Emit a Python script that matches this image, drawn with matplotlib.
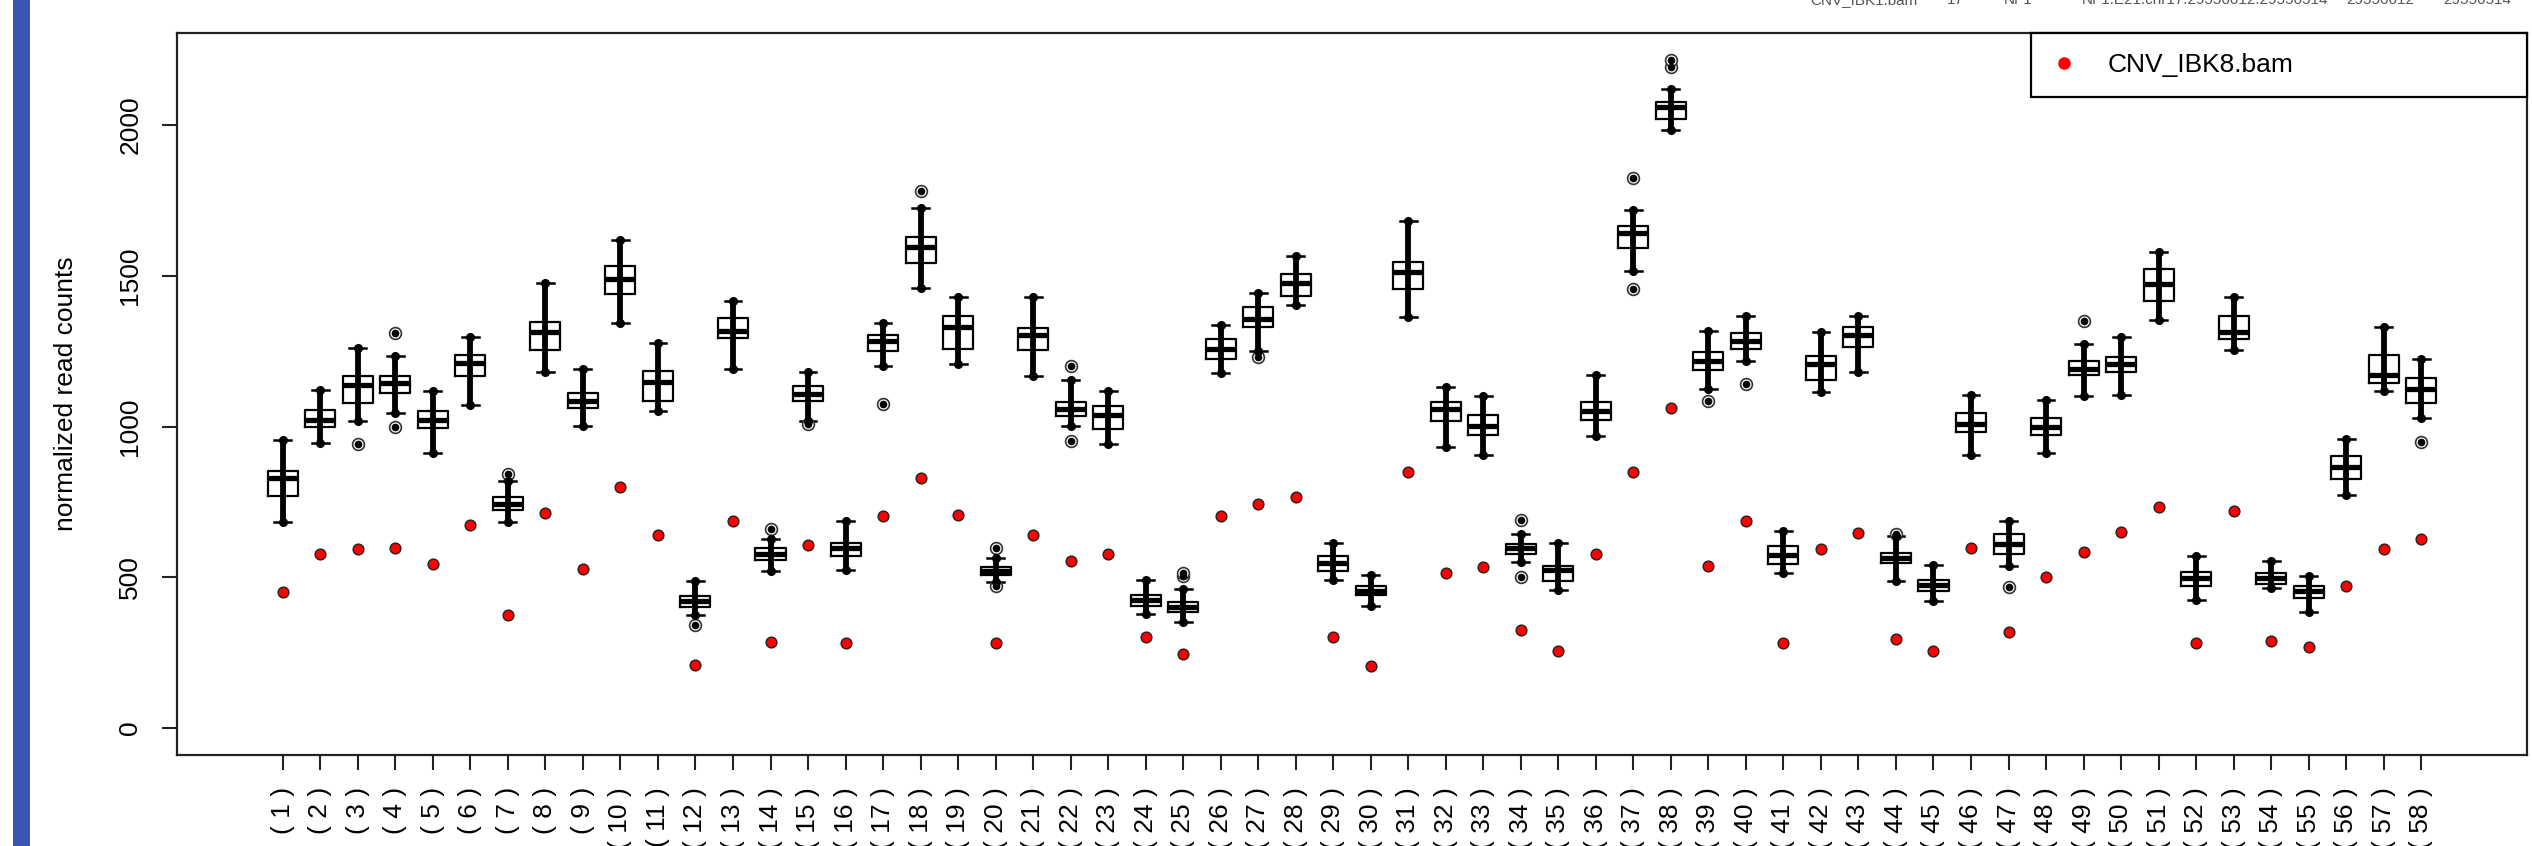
"""
Normalized read counts per amplicon: reference boxplots plus one sample (red).
"""
import matplotlib
matplotlib.use("Agg")
import matplotlib.pyplot as plt
from matplotlib.lines import Line2D
from matplotlib.patches import Rectangle

plt.rcParams["font.family"] = ["Liberation Sans", "DejaVu Sans"]

# box statistics (amplicons 1..58)
whis_lo = [684, 944, 1019, 1044, 914, 1073, 684, 1180, 1003, 1344,
           1050, 375, 1191, 520, 1019, 523, 1200, 1458, 1206, 484,
           1169, 1003, 941, 378, 352, 1177, 1250, 1403, 492, 406,
           1364, 933, 906, 550, 458, 969, 1516, 1984, 1125, 1219,
           516, 1113, 1180, 488, 422, 906, 539, 914, 1102, 1106,
           1355, 425, 1253, 464, 386, 773, 1117, 1028]
q1 = [769, 998, 1078, 1112, 995, 1169, 723, 1253, 1062, 1441,
      1084, 403, 1294, 559, 1084, 572, 1250, 1542, 1256, 508,
      1253, 1034, 992, 406, 386, 1225, 1331, 1434, 520, 441,
      1456, 1019, 972, 578, 488, 1023, 1591, 2020, 1188, 1258,
      544, 1153, 1264, 547, 456, 981, 578, 973, 1172, 1180,
      1417, 472, 1289, 477, 433, 825, 1145, 1078]
median = [828, 1022, 1137, 1144, 1022, 1212, 744, 1312, 1086, 1489,
          1148, 422, 1316, 578, 1109, 597, 1284, 1594, 1331, 520,
          1303, 1058, 1037, 425, 402, 1256, 1356, 1477, 547, 456,
          1513, 1059, 1003, 597, 523, 1050, 1641, 2059, 1216, 1284,
          573, 1206, 1303, 563, 475, 1008, 609, 1000, 1191, 1206,
          1472, 497, 1312, 497, 456, 867, 1172, 1125]
q3 = [853, 1055, 1169, 1169, 1050, 1237, 766, 1348, 1112, 1534,
      1184, 437, 1359, 597, 1133, 613, 1305, 1630, 1367, 534,
      1327, 1081, 1069, 441, 419, 1292, 1398, 1506, 570, 472,
      1547, 1081, 1037, 609, 539, 1083, 1664, 2075, 1247, 1309,
      605, 1234, 1331, 581, 492, 1044, 644, 1028, 1219, 1231,
      1523, 519, 1366, 513, 472, 903, 1237, 1162]
whis_hi = [956, 1122, 1259, 1234, 1117, 1297, 820, 1475, 1191, 1617,
           1277, 488, 1416, 628, 1181, 688, 1344, 1725, 1430, 563,
           1430, 1156, 1117, 491, 461, 1336, 1444, 1566, 613, 508,
           1680, 1131, 1100, 644, 613, 1172, 1719, 2120, 1316, 1367,
           653, 1312, 1367, 638, 542, 1105, 688, 1089, 1273, 1297,
           1578, 570, 1428, 555, 503, 959, 1331, 1225]
outliers = {3: [941], 4: [1311, 1000], 7: [844], 12: [341], 14: [659],
            15: [1008], 17: [1075], 18: [1781], 20: [597, 472],
            22: [1200, 953], 25: [503, 516], 27: [1231], 34: [691, 500],
            37: [1823, 1456], 38: [2191, 2216], 39: [1086], 40: [1141],
            44: [644], 47: [469], 49: [1350], 58: [950]}
# the tested sample CNV_IBK8.bam
sample = [453, 578, 594, 597, 544, 675, 375, 714, 528, 800,
          641, 211, 688, 286, 606, 281, 703, 831, 708, 284,
          641, 555, 578, 302, 245, 703, 742, 766, 302, 206,
          848, 516, 534, 325, 256, 578, 848, 1063, 539, 688,
          284, 594, 647, 297, 256, 597, 319, 500, 584, 652,
          734, 281, 719, 289, 269, 472, 594, 628]
sample_name = "CNV_IBK8.bam"
labels = [f"( {i} )" for i in range(1, 59)]

# cut-off table row visible at the very top of the screenshot
header_cells = ["CNV_IBK1.bam", "17", "NF1", "NF1.E21.chr17.29556012.29556514",
                "29556012", "29556514"]
header_x = [1810, 1947, 2004, 2082, 2346, 2443]

W, H = 2532, 846
fig = plt.figure(figsize=(W / 100, H / 100), dpi=100)
fig.patch.set_facecolor("white")

# blue bar at the left edge of the screenshot
fig.add_artist(Rectangle((13 / W, 0), 17 / W, 1, transform=fig.transFigure,
                         color="#3a55b4", lw=0))
for txt, x in zip(header_cells, header_x):
    fig.text(x / W, 1 - 4 / H, txt, fontsize=11, color="#555555",
             ha="left", va="baseline")

ax = fig.add_axes([177 / W, 1 - 755 / H, (2527 - 177) / W, (755 - 33) / H])

pos = list(range(1, 59))
stats = []
for i in range(58):
    stats.append(dict(med=median[i], q1=q1[i], q3=q3[i],
                      whislo=whis_lo[i], whishi=whis_hi[i],
                      fliers=outliers.get(i + 1, [])))

ax.bxp(stats, positions=pos, widths=0.8, capwidths=0.45, manage_ticks=False,
       boxprops=dict(color="black", lw=1.6),
       medianprops=dict(color="black", lw=3.8, solid_capstyle="butt"),
       whiskerprops=dict(color="black", lw=1.5),
       capprops=dict(color="black", lw=1.8),
       flierprops=dict(marker="o", markerfacecolor="white",
                       markeredgecolor="#333333", markersize=8.5,
                       markeredgewidth=1.2))

# dense column of reference samples drawn over each box
ax.vlines(pos, whis_lo, whis_hi, color="black", lw=4.2, zorder=3)
ax.plot(pos, whis_lo, "o", color="black", ms=5.5, zorder=3)
ax.plot(pos, whis_hi, "o", color="black", ms=5.5, zorder=3)
for k, vals in outliers.items():
    ax.plot([k] * len(vals), vals, "o", color="black", ms=4.5, zorder=3)

ax.scatter(pos, sample, s=60, color="red", edgecolors="#222222",
           linewidths=1.0, zorder=5)

ax.set_xlim(-1.82, 60.82)
ax.set_ylim(-89, 2305)
ax.set_xticks(pos)
ax.set_xticklabels(labels, rotation=90, fontsize=19)
ax.set_yticks([0, 500, 1000, 1500, 2000])
ax.set_yticklabels(["0", "500", "1000", "1500", "2000"], rotation=90,
                   va="center", fontsize=19)
ax.tick_params(axis="both", length=11, width=1.5, color="#222222")
ax.tick_params(axis="x", pad=12)
ax.tick_params(axis="y", pad=14)
for s in ax.spines.values():
    s.set_linewidth(1.6)
    s.set_color("#222222")

ax.set_ylabel("normalized read counts", fontsize=19)
ax.yaxis.set_label_coords(-0.042, 0.5)

handle = Line2D([], [], marker="o", color="red", ls="none", ms=8)
leg = ax.legend([handle], [sample_name], loc="upper left",
                bbox_to_anchor=(0.789, 0.913, 0.211, 0.087), mode="expand",
                borderaxespad=0, fancybox=False, framealpha=1,
                edgecolor="black", fontsize=19, borderpad=0.76,
                handletextpad=1.12, handlelength=1.0)
leg.get_frame().set_linewidth(1.6)

fig.savefig("out.png", dpi=100, facecolor="white")
